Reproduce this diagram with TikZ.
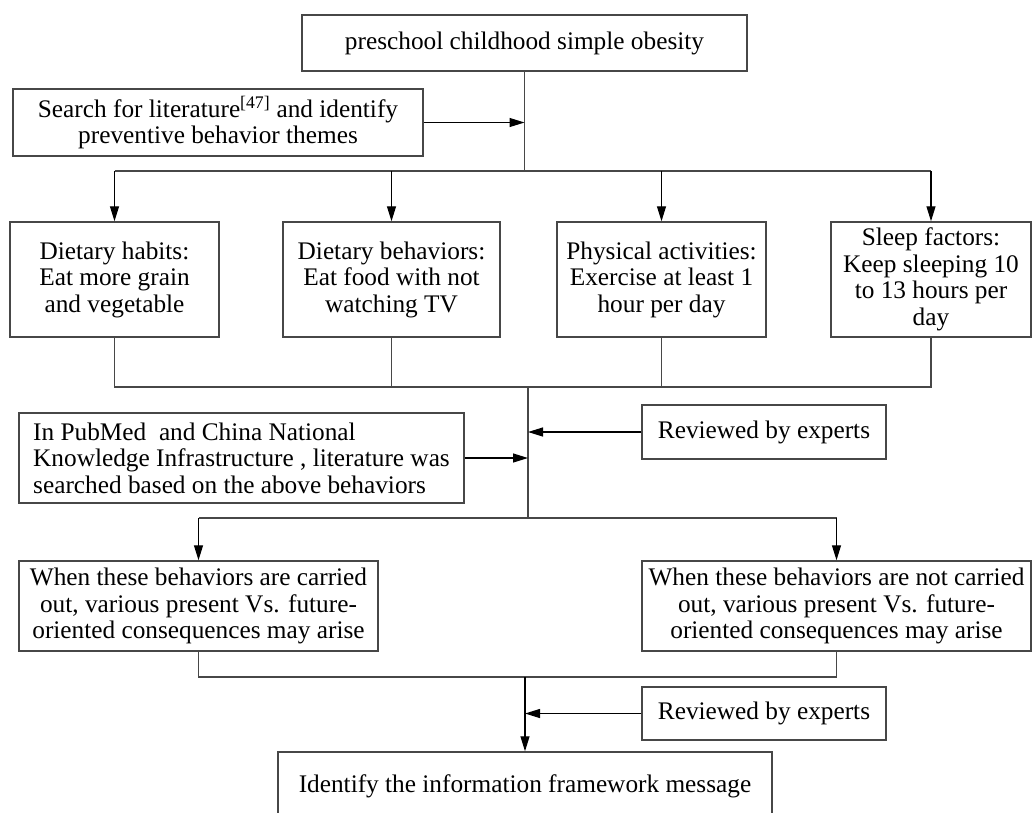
\documentclass[tikz,border=0pt]{standalone}
\usepackage{fontspec}
\setmainfont{Liberation Serif}
\usetikzlibrary{arrows.meta,calc}
\begin{document}
\begin{tikzpicture}[x=1pt,y=-1pt,
  box/.style={draw=black!72,line width=1.5pt,fill=white,inner sep=0pt,align=center,
    font=\fontsize{25.3}{26.5}\selectfont,text=black},
  conn/.style={draw=black!72,line width=1.5pt},
  arr/.style={draw=black,line width=1.2pt,-{Triangle[length=15pt,width=9pt]}}]
\useasboundingbox (0,0) rectangle (1033,812);
% nodes
\node[box,minimum width=445,minimum height=56] (top) at (524.5,43) {preschool childhood simple obesity};
\node[box,minimum width=410,minimum height=67] (search) at (218,122.5) {Search for literature\textsuperscript{[47]} and identify\\preventive behavior themes};
\node[box,minimum width=209,minimum height=115] (b1) at (114.5,279.5) {Dietary habits:\\Eat more grain\\and vegetable};
\node[box,minimum width=217,minimum height=115] (b2) at (391.5,279.5) {Dietary behaviors:\\Eat food with not\\watching TV};
\node[box,minimum width=209,minimum height=115] (b3) at (661.5,279.5) {Physical activities:\\Exercise at least 1\\hour per day};
\node[box,minimum width=200,minimum height=115] (b4) at (931,279.5) {Sleep factors:\\Keep sleeping 10\\to 13 hours per\\day};
\node[box,minimum width=445,minimum height=90,align=left] (pub) at (241.5,458) {In PubMed\ \ and China National\\Knowledge Infrastructure , literature was\\searched based on the above behaviors};
\node[box,minimum width=244,minimum height=54] (rev1) at (764,432) {Reviewed by experts};
\node[box,minimum width=359,minimum height=90] (lo) at (198.5,606) {When these behaviors are carried\\out, various present Vs. future-\\oriented consequences may arise};
\node[box,minimum width=389,minimum height=90] (ro) at (836.5,606) {When these behaviors are not carried\\out, various present Vs. future-\\oriented consequences may arise};
\node[box,minimum width=244,minimum height=53] (rev2) at (764,713.5) {Reviewed by experts};
\node[box,minimum width=494,minimum height=68] (bot) at (525,786) {Identify the information framework message};
% junction coordinates
\coordinate (j1) at (525,171);
\coordinate (j2) at (528,387);
\coordinate (j3) at (528,518);
\coordinate (j4) at (525,677);
% connectors
\draw[conn] (top.south) -- (top.south |- j1);
\draw[arr] (search.east) -- (search.east -| top.south);
\draw[conn] (b1.north |- j1) -- (b4.north |- j1);
\draw[arr] (b1.north |- j1) -- (b1.north);
\draw[arr] (b2.north |- j1) -- (b2.north);
\draw[arr] (b3.north |- j1) -- (b3.north);
\draw[arr] (b4.north |- j1) -- (b4.north);
\draw[conn] (b1.south) -- (b1.south |- j2) -- (b4.south |- j2) -- (b4.south);
\draw[conn] (b2.south) -- (b2.south |- j2);
\draw[conn] (b3.south) -- (b3.south |- j2);
\draw[conn] (j2) -- (j3);
\draw[arr] (pub.east) -- (pub.east -| j2);
\draw[arr] (rev1.west) -- (rev1.west -| j2);
\draw[conn] (j3 -| lo.north) -- (j3 -| ro.north);
\draw[arr] (j3 -| lo.north) -- (lo.north);
\draw[arr] (j3 -| ro.north) -- (ro.north);
\draw[conn] (lo.south) -- (lo.south |- j4) -- (ro.south |- j4) -- (ro.south);
\draw[arr] (j4) -- (j4 |- bot.north);
\draw[arr] (rev2.west) -- (rev2.west -| j4);
\end{tikzpicture}
\end{document}
